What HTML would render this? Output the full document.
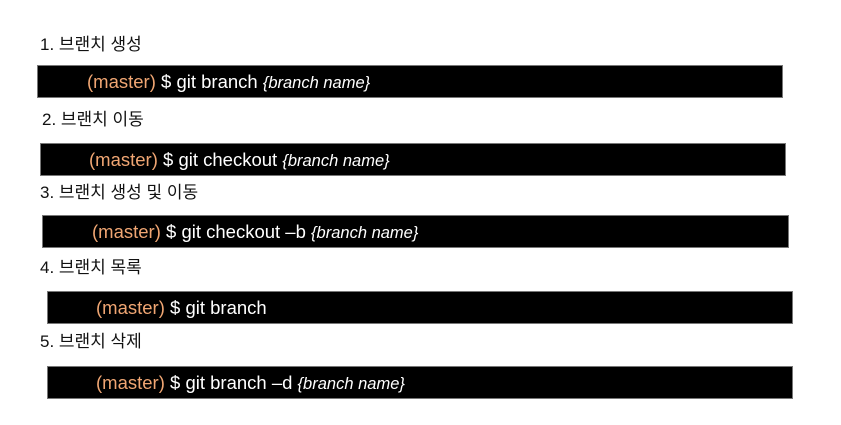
<!DOCTYPE html>
<html><head><meta charset="utf-8"><style>
body{margin:0;width:841px;height:425px;background:#fff;position:relative;overflow:hidden;font-family:"Liberation Sans","Noto Sans CJK KR",sans-serif;}
.l{position:absolute;font-size:17px;color:#111;line-height:20px;}
.b{position:absolute;background:#000;border:1px solid #777;box-sizing:border-box;color:#fff;font-size:18.5px;line-height:31px;white-space:nowrap;}
.o{color:#f0a673}
i{font-size:16.5px}
</style></head><body>
<div class="l" style="left:40px;top:35px">1. 브랜치 생성</div>
<div class="b" style="left:37px;top:65px;width:746px;height:33px;padding-left:49px"><span class="o">(master)</span> $ git branch <i>{branch name}</i></div>
<div class="l" style="left:42px;top:110px">2. 브랜치 이동</div>
<div class="b" style="left:40px;top:143px;width:746px;height:33px;padding-left:48px"><span class="o">(master)</span> $ git checkout <i>{branch name}</i></div>
<div class="l" style="left:40px;top:183px">3. 브랜치 생성 및 이동</div>
<div class="b" style="left:42px;top:215px;width:747px;height:33px;padding-left:49px"><span class="o">(master)</span> $ git checkout –b <i>{branch name}</i></div>
<div class="l" style="left:40px;top:258px">4. 브랜치 목록</div>
<div class="b" style="left:47px;top:291px;width:746px;height:33px;padding-left:48px"><span class="o">(master)</span> $ git branch</div>
<div class="l" style="left:40px;top:332px">5. 브랜치 삭제</div>
<div class="b" style="left:47px;top:366px;width:746px;height:33px;padding-left:48px"><span class="o">(master)</span> $ git branch –d <i>{branch name}</i></div>
</body></html>
